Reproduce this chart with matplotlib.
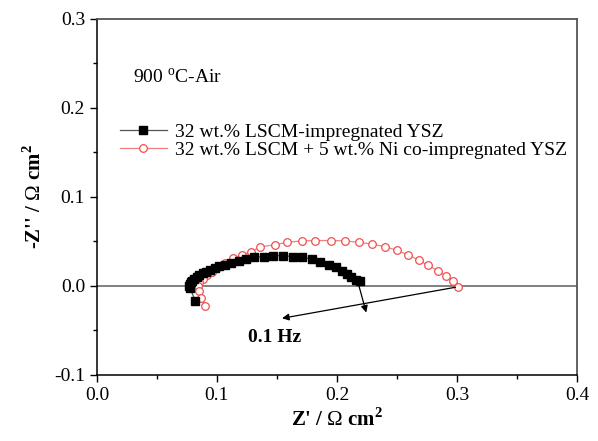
import matplotlib.pyplot as plt
from matplotlib.ticker import MultipleLocator

plt.rcParams['font.family'] = ['Liberation Serif', 'DejaVu Serif']
plt.rcParams['mathtext.fontset'] = 'custom'
plt.rcParams['mathtext.rm'] = 'Liberation Serif'
plt.rcParams['mathtext.bf'] = 'Liberation Serif:bold'

# ---- data (Z' , -Z'') ----
lscm_x = [0.2195, 0.216, 0.212, 0.208, 0.204, 0.199, 0.193, 0.186, 0.179, 0.171,
          0.163, 0.155, 0.147, 0.139, 0.131, 0.124, 0.118, 0.112, 0.107, 0.102,
          0.098, 0.094, 0.091, 0.088, 0.085, 0.083, 0.081, 0.0795, 0.078, 0.0775,
          0.077, 0.0775, 0.082]
lscm_y = [0.005, 0.007, 0.010, 0.013, 0.017, 0.021, 0.024, 0.027, 0.030, 0.032,
          0.033, 0.034, 0.034, 0.033, 0.032, 0.030, 0.028, 0.026, 0.024, 0.022,
          0.020, 0.018, 0.016, 0.014, 0.012, 0.010, 0.008, 0.006, 0.004, 0.002,
          0.000, -0.002, -0.017]

ni_x = [0.301, 0.297, 0.291, 0.284, 0.276, 0.268, 0.259, 0.250, 0.240, 0.229,
        0.218, 0.207, 0.195, 0.182, 0.171, 0.158, 0.148, 0.136, 0.128, 0.121,
        0.113, 0.107, 0.101, 0.096, 0.092, 0.088, 0.085, 0.084, 0.085, 0.087, 0.090]
ni_y = [-0.001, 0.005, 0.011, 0.017, 0.023, 0.029, 0.035, 0.040, 0.044, 0.047,
        0.049, 0.0505, 0.051, 0.051, 0.0505, 0.049, 0.046, 0.044, 0.038, 0.035,
        0.031, 0.026, 0.021, 0.016, 0.012, 0.008, 0.004, 0.000, -0.006, -0.014, -0.0225]

# ============================================
fig = plt.figure(figsize=(5.98, 4.41), dpi=100)
ax = fig.add_axes([0.162, 0.150, 0.803, 0.807])

ax.axhline(0, color='#808080', lw=1.4, zorder=1)

ax.plot(ni_x, ni_y, '-o', color='#f08080', lw=0.9, ms=5.5, mfc='white',
        mec='#f05050', mew=0.9, zorder=2,
        label='32 wt.% LSCM + 5 wt.% Ni co-impregnated YSZ')
ax.plot(lscm_x, lscm_y, '-s', color='#555555', lw=0.9, ms=5.5, mfc='black',
        mec='black', zorder=3, label='32 wt.% LSCM-impregnated YSZ')

# arrows to the 0.1 Hz label
arr = dict(arrowstyle='-|>', color='black', lw=0.9, mutation_scale=10)
ax.annotate('', xy=(0.225, -0.033), xytext=(0.2175, 0.004), arrowprops=arr)
ax.annotate('', xy=(0.152, -0.037), xytext=(0.301, -0.001), arrowprops=arr)
ax.text(0.148, -0.058, '0.1 Hz', fontsize=14, fontweight='bold',
        ha='center', va='center')

ax.text(0.03, 0.234, r'900 $^{\mathrm{o}}$C-Air', fontsize=14, va='center')

h, l = ax.get_legend_handles_labels()
ax.legend(h[::-1], l[::-1], loc='upper left', bbox_to_anchor=(0.02, 0.745),
          frameon=False, fontsize=14, handlelength=2.4, handletextpad=0.4,
          labelspacing=0.0, borderpad=0.2)

ax.set_xlim(0.0, 0.4)
ax.set_ylim(-0.1, 0.3)
ax.xaxis.set_major_locator(MultipleLocator(0.1))
ax.xaxis.set_minor_locator(MultipleLocator(0.05))
ax.yaxis.set_major_locator(MultipleLocator(0.1))
ax.yaxis.set_minor_locator(MultipleLocator(0.05))
ax.xaxis.set_major_formatter(plt.FormatStrFormatter('%.1f'))
ax.yaxis.set_major_formatter(plt.FormatStrFormatter('%.1f'))
ax.tick_params(which='major', direction='out', length=5, width=1, labelsize=14)
ax.tick_params(which='minor', direction='out', length=3, width=1)

for s in ['top', 'right']:
    ax.spines[s].set_color('#555555')
    ax.spines[s].set_linewidth(1.3)
for s in ['left', 'bottom']:
    ax.spines[s].set_linewidth(1.1)

ax.set_xlabel(r"Z' / $\Omega$ cm$^\mathbf{2}$", fontsize=15, fontweight='bold', labelpad=3)
ax.set_ylabel(r"-Z'' / $\Omega$ cm$^\mathbf{2}$", fontsize=15, fontweight='bold', labelpad=6)

fig.savefig('out.png', dpi=100)
